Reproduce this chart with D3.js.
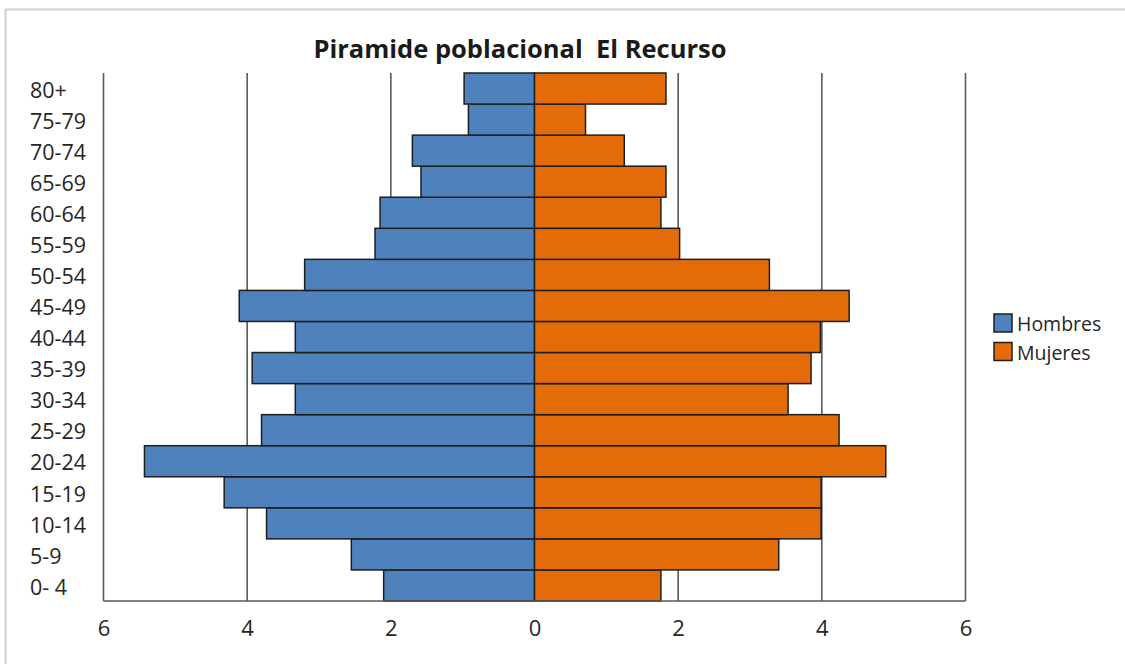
<!DOCTYPE html>
<html>
<head>
<meta charset="utf-8">
<script src="https://cdn.jsdelivr.net/npm/d3@7"></script>
<style>
  html, body { margin: 0; padding: 0; background: #fff; }
  svg { display: block; font-family: "Open Sans", sans-serif; }
</style>
</head>
<body>
<svg id="chart" width="1125" height="664"></svg>
<script>
const categories = ["0- 4","5-9","10-14","15-19","20-24","25-29","30-34","35-39","40-44","45-49","50-54","55-59","60-64","65-69","70-74","75-79","80+"];
const hombres = [2.10, 2.55, 3.73, 4.32, 5.43, 3.80, 3.33, 3.93, 3.33, 4.11, 3.20, 2.22, 2.15, 1.58, 1.70, 0.92, 0.98];
const mujeres = [1.76, 3.40, 3.99, 3.99, 4.89, 4.24, 3.53, 3.85, 3.98, 4.38, 3.27, 2.02, 1.76, 1.83, 1.25, 0.71, 1.83];
const xTicks = [-6, -4, -2, 0, 2, 4, 6];
const seriesNames = ["Hombres", "Mujeres"];
const seriesColors = ["#4F81BD", "#E36C09"];
const title = "Piramide poblacional  El Recurso";

const svg = d3.select("#chart");

// outer frame (top and left light border)
svg.append("line").attr("x1", 5).attr("x2", 1125).attr("y1", 9.5).attr("y2", 9.5)
  .attr("stroke", "#cfcfcf").attr("stroke-width", 2);
svg.append("line").attr("x1", 5.5).attr("x2", 5.5).attr("y1", 9).attr("y2", 664)
  .attr("stroke", "#cfcfcf").attr("stroke-width", 2);

const x = d3.scaleLinear().domain([-6, 6]).range([103.5, 965.5]);
const y = d3.scaleBand().domain(categories.slice().reverse()).range([73, 601]).padding(0);

// gridlines
svg.append("g").selectAll("line").data(xTicks.filter(d => d !== 0)).join("line")
  .attr("x1", d => x(d)).attr("x2", d => x(d))
  .attr("y1", 73).attr("y2", 601)
  .attr("stroke", "#595959").attr("stroke-width", 1.6);

// bars
const rows = categories.map((c, i) => ({ cat: c, h: hombres[i], m: mujeres[i] }));
svg.append("g").selectAll("rect").data(rows).join("rect")
  .attr("x", d => x(-d.h)).attr("width", d => x(0) - x(-d.h))
  .attr("y", d => y(d.cat)).attr("height", y.bandwidth())
  .attr("fill", seriesColors[0]).attr("stroke", "#1e1e1e").attr("stroke-width", 1.5);
svg.append("g").selectAll("rect").data(rows).join("rect")
  .attr("x", x(0)).attr("width", d => x(d.m) - x(0))
  .attr("y", d => y(d.cat)).attr("height", y.bandwidth())
  .attr("fill", seriesColors[1]).attr("stroke", "#1e1e1e").attr("stroke-width", 1.5);

// bottom axis line
svg.append("line").attr("x1", x(-6)).attr("x2", x(6)).attr("y1", 601).attr("y2", 601)
  .attr("stroke", "#595959").attr("stroke-width", 1.6);

// x tick labels
const xAxis = d3.axisBottom(x).tickValues(xTicks).tickSize(0).tickPadding(0)
  .tickFormat(d => Math.abs(d));
const gx = svg.append("g").attr("transform", "translate(0,620)").call(xAxis);
gx.select(".domain").remove();
gx.selectAll("text").attr("font-size", 22).attr("fill", "#262626")
  .attr("font-family", "'Open Sans', sans-serif").attr("dy", "0.71em");

// category labels
svg.append("g").selectAll("text").data(categories).join("text")
  .attr("x", 30).attr("y", d => y(d) + y.bandwidth() / 2 + 1.5)
  .attr("dy", "0.36em").attr("font-size", 21.5).attr("fill", "#262626")
  .text(d => d);

// title
svg.append("text").attr("x", 520).attr("y", 58).attr("text-anchor", "middle")
  .attr("font-size", 25.5).attr("font-weight", "bold").attr("fill", "#1a1a1a")
  .style("white-space", "pre").attr("xml:space", "preserve")
  .text(title);

// legend
const leg = svg.append("g").selectAll("g").data(seriesNames).join("g")
  .attr("transform", (d, i) => `translate(994,${314 + i * 28.5})`);
leg.append("rect").attr("width", 18).attr("height", 18)
  .attr("fill", (d, i) => seriesColors[i]).attr("stroke", "#1e1e1e").attr("stroke-width", 1.5);
leg.append("text").attr("x", 23).attr("y", 10).attr("dy", "0.36em")
  .attr("font-size", 19.5).attr("fill", "#262626").text(d => d);
</script>
</body>
</html>
